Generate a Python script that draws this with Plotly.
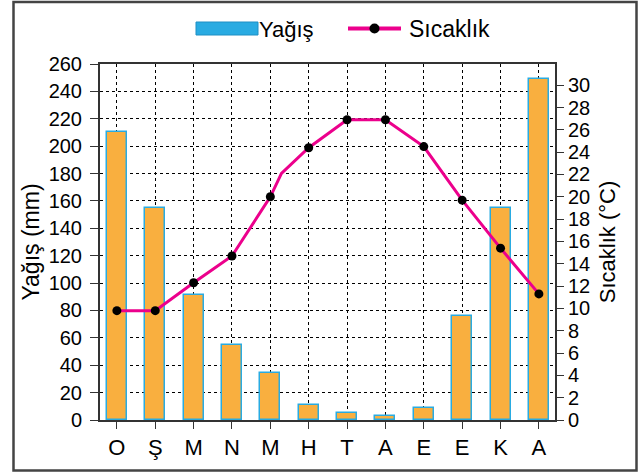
import plotly.graph_objects as go

months = ["O", "Ş", "M", "N", "M", "H", "T", "A", "E", "E", "K", "A"]
rain_mm = [210, 155, 91, 55, 34, 11, 5, 3, 8.5, 76, 155, 249]
temp_c = [9.8, 9.8, 12.3, 14.7, 20.0, 24.4, 26.9, 26.9, 24.5, 19.7, 15.4, 11.3]
# the drawn temperature line has one extra bend between May and June
bend_pos = 4.29
bend_temp = 22.1

left_ticks = list(range(0, 261, 20))
right_ticks = list(range(0, 31, 2))

x_idx = list(range(len(months)))
line_x = x_idx[:5] + [bend_pos] + x_idx[5:]
line_y = temp_c[:5] + [bend_temp] + temp_c[5:]

FONT = "Liberation Sans, Arial, sans-serif"
ORANGE = "#F9AF3F"
BLUE = "#29ABE2"
PINK = "#EC008C"

fig = go.Figure()
fig.add_trace(go.Bar(x=x_idx, y=rain_mm, width=0.52,
                     marker=dict(color=ORANGE, line=dict(color=BLUE, width=1.5)),
                     showlegend=False, yaxis="y"))
fig.add_trace(go.Scatter(x=line_x, y=line_y, mode="lines",
                         line=dict(color=PINK, width=3), showlegend=False, yaxis="y2"))
fig.add_trace(go.Scatter(x=x_idx, y=temp_c, mode="markers",
                         marker=dict(color="black", size=9), showlegend=False, yaxis="y2"))

W, H = 643, 473
L, R, T, B = 100, 555, 64, 420
pw, ph = R - L, B - T
def px(x):
    return (x - L) / pw
def py(y):
    return (B - y) / ph

shapes = [
    dict(type="rect", xref="paper", yref="paper", x0=px(13.5), x1=px(636.5), y0=py(470.5), y1=py(2),
         line=dict(color="#444444", width=2.5), fillcolor="rgba(0,0,0,0)", layer="below"),
    dict(type="rect", xref="paper", yref="paper", x0=px(196), x1=px(258), y0=py(35), y1=py(22),
         line=dict(color="#1E8FC4", width=1), fillcolor=BLUE),
    dict(type="line", xref="paper", yref="paper", x0=px(348), x1=px(401), y0=py(28.5), y1=py(28.5),
         line=dict(color=PINK, width=4)),
    dict(type="circle", xref="paper", yref="paper", x0=px(369.5), x1=px(379.5), y0=py(33.5), y1=py(23.5),
         line=dict(color="black", width=0), fillcolor="black"),
]
annotations = [
    dict(text="Yağış", xref="paper", yref="paper", x=px(257), y=py(29), xanchor="left", yanchor="middle",
         showarrow=False, font=dict(family=FONT, size=22, color="black")),
    dict(text="Sıcaklık", xref="paper", yref="paper", x=px(407), y=py(29), xanchor="left", yanchor="middle",
         showarrow=False, font=dict(family=FONT, size=23, color="black")),
]

fig.update_layout(
    width=W, height=H,
    margin=dict(l=L, r=W - R, t=T, b=H - B, pad=0),
    paper_bgcolor="white", plot_bgcolor="white",
    font=dict(family=FONT, color="black"),
    bargap=0,
    shapes=shapes, annotations=annotations,
    xaxis=dict(range=[-0.44, 11.42], tickvals=x_idx, ticktext=months,
               tickfont=dict(size=22), ticks="outside", ticklen=7, tickcolor="#333",
               showline=True, linecolor="#333", linewidth=2, mirror=True,
               showgrid=True, gridcolor="black", gridwidth=1.2, griddash="3px,3px",
               zeroline=False, fixedrange=True),
    yaxis=dict(range=[0, 260], tickvals=left_ticks, tickfont=dict(size=20),
               ticks="outside", ticklen=8, tickcolor="#333", ticklabelstandoff=4,
               showline=True, linecolor="#333", linewidth=2,
               showgrid=True, gridcolor="black", gridwidth=1.2, griddash="3px,3px",
               zeroline=False,
               title=dict(text="Yağış (mm)", font=dict(size=23), standoff=3)),
    yaxis2=dict(range=[0, 31.9], tickvals=right_ticks, tickfont=dict(size=20),
                overlaying="y", side="right", ticks="outside", ticklen=7, tickcolor="#333",
                showline=True, linecolor="#333", linewidth=2, showgrid=False, zeroline=False,
                title=dict(text="Sıcaklık (°C)", font=dict(size=22), standoff=10)),
)

fig.write_html("out.html", config={"displayModeBar": False},
               post_script="document.body.style.margin='0';document.body.style.overflow='hidden';")
